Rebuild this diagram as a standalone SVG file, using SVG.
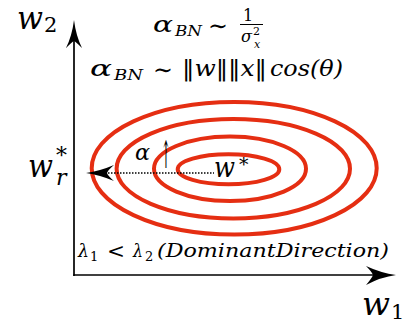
<svg xmlns="http://www.w3.org/2000/svg" width="404" height="329" viewBox="0 0 404 329">
<style>
.m{font-family:'DejaVu Serif','Liberation Serif',serif;font-style:italic;fill:#000}
.r{font-family:'DejaVu Serif','Liberation Serif',serif;font-style:normal;fill:#000}
.c{fill:none;stroke:#e52e12;stroke-width:4}
.ax{stroke:#000;stroke-width:1.7;fill:none}
</style>
<rect width="404" height="329" fill="#fff"/>
<g id="contours">
<ellipse class="c" cx="234.2" cy="168.2" rx="142.5" ry="66.3"/>
<ellipse class="c" cx="233.3" cy="168.7" rx="116.7" ry="49.7"/>
<ellipse class="c" cx="230" cy="168.8" rx="76" ry="32.2"/>
<ellipse class="c" cx="228.5" cy="169.3" rx="50.8" ry="15"/>
</g>
<g id="connectors">
<line class="ax" x1="74" y1="40" x2="74" y2="276"/>
<path d="M74,20 Q76,36 82,48 Q76,42 74,41 Q72,42 66,48 Q72,36 74,20 Z" fill="#000"/>
<line class="ax" x1="73.2" y1="275" x2="376" y2="275"/>
<path d="M396,275 Q381,277 366,285 Q372,278 373,275 Q372,272 366,266 Q381,273 396,275 Z" fill="#000"/>
<line x1="108" y1="173" x2="214" y2="173" stroke="#000" stroke-width="1.5" stroke-dasharray="1.5,1.5"/>
<path d="M86,173 Q100,171 114,165 Q108,170 107,173 Q108,176 114,181 Q100,175 86,173 Z" fill="#000"/>
</g>
<g id="label-w2">
<text class="m" x="17" y="29" font-size="32" textLength="26" lengthAdjust="spacingAndGlyphs">w</text>
<text class="r" x="44" y="32" font-size="21">2</text>
</g>
<g id="label-w1">
<text class="m" x="362" y="315" font-size="32" textLength="28" lengthAdjust="spacingAndGlyphs">w</text>
<text class="r" x="391" y="319" font-size="21">1</text>
</g>
<g id="label-wr">
<text class="m" x="28" y="177" font-size="32" textLength="25" lengthAdjust="spacingAndGlyphs">w</text>
<text class="r" x="56" y="163" font-size="22">*</text>
<text class="m" x="56" y="185" font-size="22">r</text>
</g>
<g id="label-wstar">
<text class="m" x="214" y="177" font-size="27" textLength="21" lengthAdjust="spacingAndGlyphs">w</text>
<text class="r" x="239" y="171" font-size="19">*</text>
</g>
<g id="label-alpha">
<text class="m" x="135" y="160" font-size="22" textLength="15" lengthAdjust="spacingAndGlyphs">α</text>
<text class="r" x="161" y="168" font-size="38" textLength="10" lengthAdjust="spacingAndGlyphs">↑</text>
</g>
<g id="formula1">
<text class="m" x="153" y="32" font-size="22" textLength="20" lengthAdjust="spacingAndGlyphs">α</text>
<text class="m" x="175" y="36" font-size="15" textLength="27" lengthAdjust="spacingAndGlyphs">BN</text>
<text class="r" x="208" y="34" font-size="24" textLength="20" lengthAdjust="spacingAndGlyphs">∼</text>
<text class="r" x="243" y="21" font-size="16">1</text>
<line x1="240" y1="24.5" x2="263" y2="24.5" stroke="#000" stroke-width="1"/>
<text class="m" x="241" y="42" font-size="16" textLength="11" lengthAdjust="spacingAndGlyphs">σ</text>
<text class="r" x="253" y="35" font-size="11">2</text>
<text class="m" x="254" y="48" font-size="11">x</text>
</g>
<g id="formula2">
<text class="m" x="90" y="76" font-size="22" textLength="22" lengthAdjust="spacingAndGlyphs">α</text>
<text class="m" x="114" y="80" font-size="15" textLength="29" lengthAdjust="spacingAndGlyphs">BN</text>
<text class="r" x="153" y="78" font-size="24" textLength="20" lengthAdjust="spacingAndGlyphs">∼</text>
<text class="m" x="182" y="76" font-size="22" textLength="85" lengthAdjust="spacingAndGlyphs">‖w‖‖x‖</text>
<text class="m" x="270" y="76" font-size="22" textLength="73" lengthAdjust="spacingAndGlyphs">cos(θ)</text>
</g>
<g id="label-lambda">
<text class="m" x="78" y="257" font-size="19" textLength="11" lengthAdjust="spacingAndGlyphs">λ</text>
<text class="r" x="90" y="261" font-size="13">1</text>
<text class="r" x="107" y="258" font-size="20" textLength="18" lengthAdjust="spacingAndGlyphs">&lt;</text>
<text class="m" x="133" y="257" font-size="19" textLength="10" lengthAdjust="spacingAndGlyphs">λ</text>
<text class="r" x="145" y="261" font-size="13">2</text>
<text class="m" x="157" y="257" font-size="19" textLength="232" lengthAdjust="spacingAndGlyphs">(DominantDirection)</text>
</g>
</svg>
